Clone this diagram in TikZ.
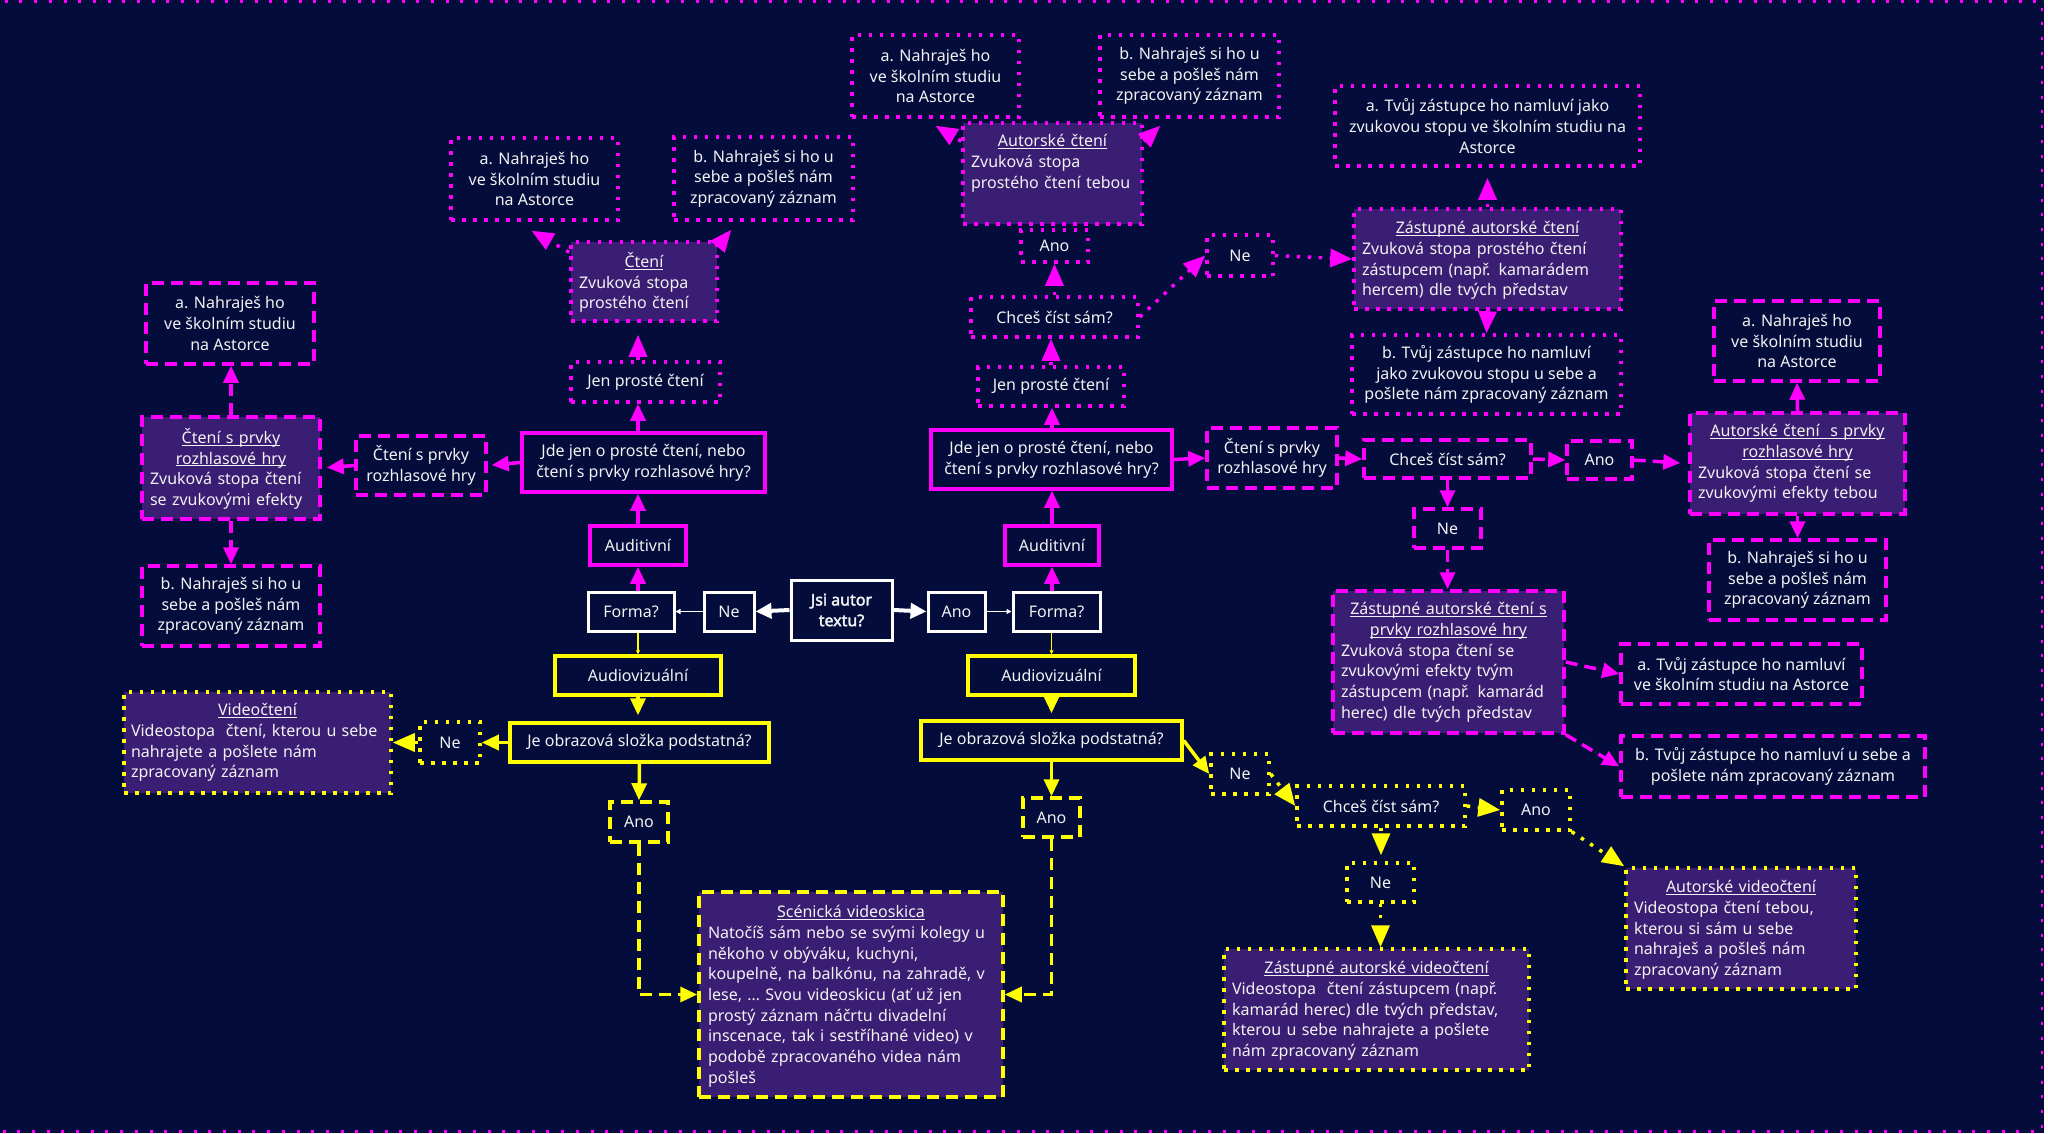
\documentclass[tikz,border=0pt]{standalone}
\usepackage{fontspec}
\setmainfont{Noto Sans}
\newfontfamily\jsibold[FakeBold=2.5]{Noto Sans}
\usetikzlibrary{arrows.meta,calc}
\definecolor{bg}{HTML}{030C3B}
\definecolor{mag}{HTML}{FF00FF}
\definecolor{yel}{HTML}{FFFF00}
\definecolor{purp}{HTML}{3A1E73}
\definecolor{txtc}{HTML}{F2F2F2}
\newcommand{\fsz}{\fontsize{16}{20.7}\selectfont}
\newcommand{\myul}[1]{\underline{\smash{#1}}\vphantom{#1}}
\tikzset{
  lbl/.style={text=txtc, font=\fsz, align=center, inner sep=0pt},
  bx/.style={lbl, rectangle, line width=3.5pt},
  wsolid/.style={bx, draw=white, line width=3pt},
  msolid/.style={bx, draw=mag},
  ysolid/.style={bx, draw=yel},
  mdot/.style={bx, draw=mag, dash pattern=on 3.5pt off 7.5pt},
  ydot/.style={bx, draw=yel, dash pattern=on 3.5pt off 7.5pt},
  mdash/.style={bx, draw=mag, dash pattern=on 12pt off 7pt},
  ydash/.style={bx, draw=yel, dash pattern=on 12pt off 7pt},
  filled/.style={fill=purp},
  sz/.style 2 args={minimum width=#1, minimum height=#2},
  body/.style={text=txtc, font=\fsz, inner sep=0pt, anchor=north},
  tipS/.style={-{Triangle[length=17pt,width=15pt]}},
  tipB/.style={-{Triangle[length=22pt,width=18pt]}},
  wthick/.style={draw=white, line width=4pt, -{Triangle[length=16pt,width=15pt]}},
  wthin/.style={draw=white, line width=1.5pt, -{Triangle[length=5pt,width=5pt]}},
  ythin/.style={draw=yel, line width=1.2pt, -{Triangle[length=4pt,width=4pt]}},
  mline/.style={draw=mag, line width=3.5pt, tipS},
  yline/.style={draw=yel, line width=3.5pt, tipS},
  mdotline/.style={draw=mag, line width=3.5pt, dash pattern=on 3.5pt off 7.5pt, tipB},
  ydotline/.style={draw=yel, line width=3.5pt, dash pattern=on 3.5pt off 7.5pt, tipB},
  mdashline/.style={draw=mag, line width=3.5pt, dash pattern=on 12pt off 7pt, tipS},
  ydashline/.style={draw=yel, line width=3.5pt, dash pattern=on 12pt off 7pt, tipS},
}
\begin{document}
\begin{tikzpicture}[x=1pt,y=-1pt]
\useasboundingbox (0,0) rectangle (2048,1133);
\fill[bg] (0,0) rectangle (2048,1133);
\fill[white] (2044,0) rectangle (2048,1133);
\draw[mag, line width=2.5pt, dash pattern=on 3pt off 11.7pt] (-10,1.5) -- (2042,1.5) -- (2042,1131.5) -- (-10,1131.5);

% ---------- white centre ----------
\node[wsolid, sz={101}{60}, font=\jsibold\fsz] (jsi) at (841.5,610) {Jsi autor\\textu?};
\node[wsolid, sz={50}{39}] (neW) at (729,611.5) {Ne};
\node[wsolid, sz={86}{39}] (formaL) at (631,611.5) {Forma?};
\node[wsolid, sz={57}{39}] (anoW) at (956.5,611.5) {Ano};
\node[wsolid, sz={87}{39}] (formaR) at (1056.5,611.5) {Forma?};

% ---------- magenta solid ----------
\node[msolid, sz={96}{39}] (audL) at (638,545.5) {Auditivní};
\node[msolid, sz={94}{39}] (audR) at (1052,545.5) {Auditivní};
\node[msolid, sz={243}{59}] (jdeL) at (643.5,462.5) {Jde jen o prosté čtení, nebo\\čtení s prvky rozhlasové hry?};
\node[msolid, sz={241}{59}] (jdeR) at (1051.5,459.5) {Jde jen o prosté čtení, nebo\\čtení s prvky rozhlasové hry?};

% ---------- magenta dotted ----------
\node[mdot, sz={149}{40}] (jenL) at (645.5,382) {Jen prosté čtení};
\node[mdot, sz={146}{39}] (jenR) at (1051,386.5) {Jen prosté čtení};
\node[mdot, filled, sz={146}{79}] (ctL) at (644,281.5) {};
\node[body, text width=130pt] (ctLt) at ($(ctL.north)+(0,12)$) {\centering\myul{Čtení}\par\raggedright Zvuková stopa\\prostého čtení};
\node[mdot, sz={167}{82}] (aL1) at (534.5,179) {a. Nahraješ ho\\ve školním studiu\\na Astorce};
\node[mdot, sz={179}{83}] (bL1) at (763.5,178.5) {b. Nahraješ si ho u\\sebe a pošleš nám\\zpracovaný záznam};
\node[mdot, sz={167}{82}] (aM) at (935.5,76) {a. Nahraješ ho\\ve školním studiu\\na Astorce};
\node[mdot, sz={179}{82}] (bM) at (1189.5,76) {b. Nahraješ si ho u\\sebe a pošleš nám\\zpracovaný záznam};
\node[mdot, filled, sz={179}{101}] (autC) at (1052.5,173.5) {};
\node[body, text width=163pt] (autCt) at ($(autC.north)+(0,13)$) {\centering\myul{Autorské čtení}\par\raggedright Zvuková stopa\\prostého čtení tebou};
\node[mdot, sz={67}{32}] (anoM) at (1054.5,246) {Ano};
\node[mdot, sz={167}{40}] (chcesM) at (1054.5,317) {Chceš číst sám?};
\node[mdot, sz={66}{41}] (neM) at (1240,255.5) {Ne};
\node[mdot, filled, sz={267}{100}] (zastC) at (1487.5,259) {};
\node[body, text width=251pt] (zastCt) at ($(zastC.north)+(0,14)$) {\centering\myul{Zástupné autorské čtení}\par\raggedright Zvuková stopa prostého čtení\\zástupcem (např. kamarádem\\hercem) dle tvých představ};
\node[mdot, sz={305}{80}] (aT) at (1487.5,126) {a. Tvůj zástupce ho namluví jako\\zvukovou stopu ve školním studiu na\\Astorce};
\node[mdot, sz={269}{79}] (bT) at (1486.5,374.5) {b. Tvůj zástupce ho namluví\\jako zvukovou stopu u sebe a\\pošlete nám zpracovaný záznam};

% ---------- magenta dashed ----------
\node[mdash, sz={130}{59}] (ctsqL) at (421,465.5) {Čtení s prvky\\rozhlasové hry};
\node[mdash, filled, sz={178}{102}] (ctsL) at (231,468) {};
\node[body, text width=162pt] (ctsLt) at ($(ctsL.north)+(0,13)$) {\centering\myul{Čtení s prvky}\\\myul{rozhlasové hry}\par\raggedright Zvuková stopa čtení\\se zvukovými efekty};
\node[mdash, sz={168}{81}] (aD) at (230,323.5) {a. Nahraješ ho\\ve školním studiu\\na Astorce};
\node[mdash, sz={178}{80}] (bD) at (231,606) {b. Nahraješ si ho u\\sebe a pošleš nám\\zpracovaný záznam};
\node[mdash, sz={130}{60}] (ctsqR) at (1272,458) {Čtení s prvky\\rozhlasové hry};
\node[mdash, sz={167}{38}] (chcesD) at (1447.5,459) {Chceš číst sám?};
\node[mdash, sz={65}{38}] (anoD) at (1599.5,460) {Ano};
\node[mdash, filled, sz={215}{101}] (autS) at (1797.5,463.5) {};
\node[body, text width=199pt] (autSt) at ($(autS.north)+(0,13)$) {\centering\myul{Autorské čtení\ \ s prvky}\\\myul{rozhlasové hry}\par\raggedright Zvuková stopa čtení se\\zvukovými efekty tebou};
\node[mdash, sz={166}{80}] (aR) at (1797,341) {a. Nahraješ ho\\ve školním studiu\\na Astorce};
\node[mdash, sz={177}{80}] (bR) at (1797.5,580) {b. Nahraješ si ho u\\sebe a pošleš nám\\zpracovaný záznam};
\node[mdash, sz={67}{39}] (neD) at (1447.5,528.5) {Ne};
\node[mdash, filled, sz={231}{142}] (zastS) at (1448.5,662) {};
\node[body, text width=215pt] (zastSt) at ($(zastS.north)+(0,13)$) {\centering\myul{Zástupné autorské čtení s}\\\myul{prvky rozhlasové hry}\par\raggedright Zvuková stopa čtení se\\zvukovými efekty tvým\\zástupcem (např. kamarád\\herec) dle tvých představ};
\node[mdash, sz={241}{60}] (aTS) at (1741.5,674) {a. Tvůj zástupce ho namluví\\ve školním studiu na Astorce};
\node[mdash, sz={304}{61}] (bTS) at (1773,766.5) {b. Tvůj zástupce ho namluví u sebe a\\pošlete nám zpracovaný záznam};

% ---------- yellow ----------
\node[ysolid, sz={166}{39}] (avL) at (638,675.5) {Audiovizuální};
\node[ysolid, sz={167}{39}] (avR) at (1051.5,675.5) {Audiovizuální};
\node[ysolid, sz={259}{39}] (obrL) at (639.5,742.5) {Je obrazová složka podstatná?};
\node[ysolid, sz={261}{39}] (obrR) at (1051.5,740.5) {Je obrazová složka podstatná?};
\node[ydot, sz={60}{41}] (neYL) at (450,742.5) {Ne};
\node[ydot, filled, sz={267}{101}] (videoC) at (257.5,742.5) {};
\node[body, text width=253pt] (videoCt) at ($(videoC.north)+(0,13)$) {\centering\myul{Videočtení}\par\raggedright Videostopa\ \ čtení, kterou u sebe\\nahrajete a pošlete nám\\zpracovaný záznam};
\node[ydash, sz={58}{40}] (anoYL) at (639,822) {Ano};
\node[ydash, sz={57}{39}] (anoYR) at (1051.5,817.5) {Ano};
\node[ydash, filled, sz={304}{205}] (scen) at (851,994.5) {};
\node[body, text width=286pt] (scent) at ($(scen.north)+(0,15)$) {\centering\myul{Scénická videoskica}\par\raggedright Natočíš sám nebo se svými kolegy u\\někoho v obýváku, kuchyni,\\koupelně, na balkónu, na zahradě, v\\lese, … Svou videoskicu (ať už jen\\prostý záznam náčrtu divadelní\\inscenace, tak i sestříhané video) v\\podobě zpracovaného videa nám\\pošleš};
\node[ydot, sz={58}{40}] (neYR) at (1240,774) {Ne};
\node[ydot, sz={168}{40}] (chcesY) at (1381,806) {Chceš číst sám?};
\node[ydot, sz={68}{40}] (anoY) at (1536,810) {Ano};
\node[ydot, sz={67}{39}] (neY2) at (1380.5,882.5) {Ne};
\node[ydot, filled, sz={305}{121}] (zastV) at (1376.5,1009.5) {};
\node[body, text width=289pt] (zastVt) at ($(zastV.north)+(0,14)$) {\centering\myul{Zástupné autorské videočtení}\par\raggedright Videostopa\ \ čtení zástupcem (např.\\kamarád herec) dle tvých představ,\\kterou u sebe nahrajete a pošlete\\nám zpracovaný záznam};
\node[ydot, filled, sz={230}{121}] (autV) at (1741,928.5) {};
\node[body, text width=214pt] (autVt) at ($(autV.north)+(0,14)$) {\centering\myul{Autorské videočtení}\par\raggedright Videostopa čtení tebou,\\kterou si sám u sebe\\nahraješ a pošleš nám\\zpracovaný záznam};

% ---------- connectors: white ----------
\draw[wthick] (jsi.west) -- (neW.east);
\draw[wthick] (jsi.east) -- (anoW.west);
\draw[wthin] (neW.west) -- (formaL.east);
\draw[wthin] (anoW.east) -- (formaR.west);

% ---------- connectors: magenta solid ----------
\draw[mline] (formaL.north -| audL.south) -- (audL.south);
\draw[mline] (audL.north) -- (audL.north |- jdeL.south);
\draw[mline] (audL.north |- jdeL.north) -- (audL.north |- jenL.south);
\draw[mline, shorten >=4pt] (jdeL.west) -- (ctsqL.east);
\draw[mline] (formaR.north -| audR.south) -- (audR.south);
\draw[mline] (audR.north) -- (audR.north |- jdeR.south);
\draw[mline] (audR.north |- jdeR.north) -- (audR.north |- jenR.south);
\draw[mline] (jdeR.east) -- (ctsqR.west);

% ---------- connectors: magenta dotted ----------
\draw[mdotline, shorten >=12pt] (audL.north |- jenL.north) -- (audL.north |- ctL.south);
\draw[mdotline] ($(ctL.north west)+(0,12)$) -- ($(aL1.south)+(-3,9)$);
\draw[mdotline] ($(ctL.north east)+(0,5)$) -- ($(bL1.south west)+(59,8)$);
\draw[mdotline] (jenR.north) -- (jenR.north |- chcesM.south);
\draw[mdotline] (chcesM.north) -- (anoM.south);
\draw[mdotline] ($(autC.north west)+(0,20)$) -- ($(aM.south)+(0,7)$);
\draw[mdotline] ($(autC.north east)+(0,20)$) -- ($(bM.south west)+(62,7)$);
\draw[mdotline] (chcesM.east) -- (neM.west);
\draw[mdotline] (neM.east) -- (zastC.west);
\draw[mdotline, shorten >=10pt] (zastC.north) -- (aT.south);
\draw[mdotline] (zastC.south) -- (bT.north);

% ---------- connectors: magenta dashed ----------
\draw[mdashline, shorten >=5pt] (ctsqL.west) -- (ctsL.east);
\draw[mdashline] (ctsL.north) -- (ctsL.north |- aD.south);
\draw[mdashline] (ctsL.south) -- (ctsL.south |- bD.north);
\draw[mdashline] (ctsqR.east) -- (chcesD.west);
\draw[mdashline] (chcesD.east) -- (anoD.west);
\draw[mdashline, shorten >=8pt] (anoD.east) -- (autS.west);
\draw[mdashline] (chcesD.south) -- (neD.north);
\draw[mdashline] (neD.south) -- (neD.south |- zastS.north);
\draw[mdashline] (autS.north) -- (aR.south);
\draw[mdashline] (autS.south) -- (bR.north);
\draw[mdashline] (zastS.east) -- (aTS.west);
\draw[mdashline] (zastS.south east) -- (bTS.west);

% ---------- connectors: yellow ----------
\draw[ythin] (formaL.south -| avL.north) -- (avL.north);
\draw[ythin] (formaR.south -| avR.north) -- (avR.north);
\draw[yline, shorten >=6pt] (avL.south) -- (avL.south |- obrL.north);
\draw[yline, shorten >=6pt] (avR.south) -- (avR.south |- obrR.north);
\draw[yline] (obrL.west) -- (neYL.east);
\draw[ydotline] (neYL.west) -- (videoC.east);
\draw[yline] (obrL.south) -- (anoYL.north);
\draw[yline] (obrR.south) -- (anoYR.north);
\draw[ydashline] (anoYL.south) |- (scen.west);
\draw[ydashline] (anoYR.south) |- (scen.east);
\draw[yline] (obrR.east) -- (neYR.west);
\draw[ydotline] (neYR.east) -- (chcesY.west);
\draw[ydotline] (chcesY.east) -- (anoY.west);
\draw[ydotline, shorten >=6pt] (chcesY.south) -- (chcesY.south |- neY2.north);
\draw[ydotline] (neY2.south) -- (neY2.south |- zastV.north);
\draw[ydotline] (anoY.south east) -- (autV.north west);
\end{tikzpicture}
\end{document}
